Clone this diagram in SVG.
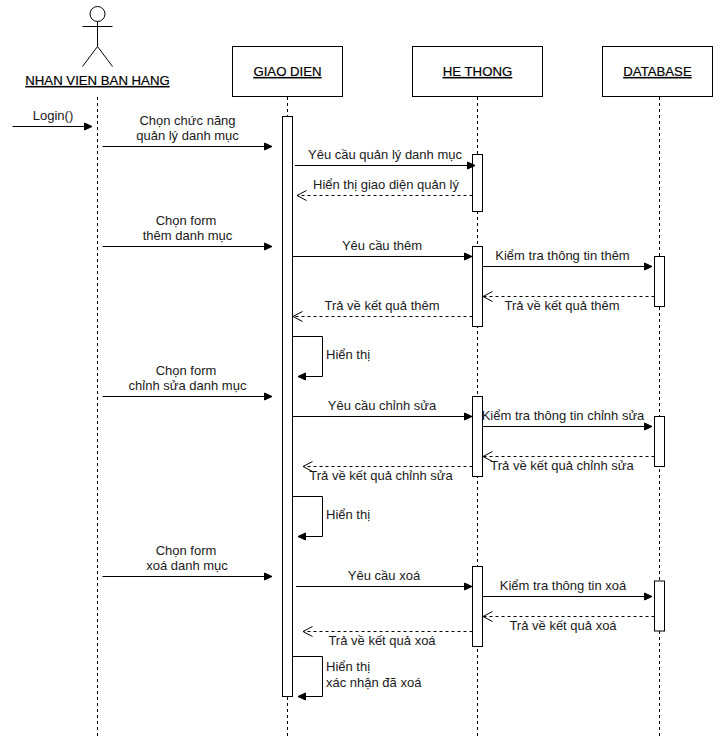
<svg xmlns="http://www.w3.org/2000/svg" width="722" height="746" viewBox="0 0 722 746">
<style>
text{font-family:"Liberation Sans",Arial,sans-serif;font-size:13px;fill:#1a1a1a}
.m{text-anchor:middle}
.b{text-decoration:underline;text-anchor:middle;fill:#000;font-size:13.2px;stroke:#000;stroke-width:0.2}
.box{fill:#fff;stroke:#000;stroke-width:1}
.ll{fill:none;stroke:#000;stroke-width:1;stroke-dasharray:3 3}
.a{fill:none;stroke:#000;stroke-width:1;marker-end:url(#block)}
.r{fill:none;stroke:#000;stroke-width:1;stroke-dasharray:3 3;marker-end:url(#open)}
</style>
<defs>
<marker id="block" markerUnits="userSpaceOnUse" markerWidth="10" markerHeight="10" refX="8" refY="4.5" orient="auto"><path d="M0.5 1L8 4.5L0.5 8Z" fill="#000" stroke="#000"/></marker>
<marker id="open" markerUnits="userSpaceOnUse" markerWidth="12" markerHeight="12" refX="10" refY="5.500" orient="auto"><path d="M0.500 0.500L10 5.500L0.500 10.500" fill="none" stroke="#000"/></marker>
</defs>
<rect width="722" height="746" fill="#fff"/>
<g id="lifelines">
<path class="ll" d="M97.500 97V737"/><path class="ll" d="M287.500 97V737"/><path class="ll" d="M477.500 97V737"/><path class="ll" d="M659.500 97V737"/>
</g>
<g id="actor">
<circle cx="97.500" cy="14" r="7.500" fill="#fff" stroke="#000"/>
<path d="M97.500 21.500V46.500M82.500 26.500H112.500M97.500 46.500L82.500 66.500M97.500 46.500L112.500 66.500" fill="none" stroke="#000"/>
<text class="b" x="97.500" y="85">NHAN VIEN BAN HANG</text>
</g>
<g id="giaodien"><rect class="box" x="232.500" y="46.500" width="110" height="50"/><text class="b" x="287.500" y="76">GIAO DIEN</text></g>
<g id="hethong"><rect class="box" x="412.500" y="46.500" width="130" height="50"/><text class="b" x="477.500" y="76">HE THONG</text></g>
<g id="database"><rect class="box" x="602.500" y="46.500" width="110" height="50"/><text class="b" x="657.500" y="76">DATABASE</text></g>
<g id="activations">
<rect class="box" x="282.500" y="116.500" width="10" height="580"/>
<rect class="box" x="472.500" y="154.500" width="10" height="57"/>
<rect class="box" x="472.500" y="246.500" width="10" height="80"/>
<rect class="box" x="472.500" y="396.500" width="10" height="80"/>
<rect class="box" x="472.500" y="566.500" width="10" height="80"/>
<rect class="box" x="654.500" y="256.500" width="10" height="50"/>
<rect class="box" x="654.500" y="416.500" width="10" height="50"/>
<rect class="box" x="654.500" y="581" width="10" height="50"/>
</g>
<g id="connectors">
<path class="a" d="M12.500 126.500H92"/>
<path class="a" d="M102.500 146.500H272"/>
<path class="a" d="M295 165.500H475"/>
<path class="r" d="M472.500 195.500H297"/>
<path class="a" d="M102.500 246.500H272"/>
<path class="a" d="M292.500 256.500H472"/>
<path class="a" d="M482.500 266.500H652"/>
<path class="r" d="M654.500 296.500H483"/>
<path class="r" d="M472.500 316.500H293"/>
<path class="a" d="M292.500 336.500H322.500V376.500H298"/>
<path class="a" d="M102.500 396.500H272"/>
<path class="a" d="M292.500 416.500H472"/>
<path class="a" d="M482.500 426.500H652"/>
<path class="r" d="M654.500 456.500H483"/>
<path class="r" d="M472.500 466.500H303"/>
<path class="a" d="M292.500 496.500H322.500V536.500H298"/>
<path class="a" d="M102.500 576.500H272"/>
<path class="a" d="M296 586.500H472"/>
<path class="a" d="M482.500 596.500H652"/>
<path class="r" d="M654.500 616.500H483"/>
<path class="r" d="M472.500 631.500H303"/>
<path class="a" d="M292.500 656.500H322.500V696.500H298"/>
</g>
<g id="labels">
<text class="m" x="53" y="120">Login()</text>
<text class="m" x="187.500" y="125">Chọn chức năng</text>
<text class="m" x="187.500" y="140">quản lý danh mục</text>
<text class="m" x="385" y="159">Yêu cầu quản lý danh mục</text>
<text class="m" x="386" y="189">Hiển thị giao diện quản lý</text>
<text class="m" x="186" y="225">Chọn form</text>
<text class="m" x="187.500" y="240">thêm danh mục</text>
<text class="m" x="382" y="250">Yêu cầu thêm</text>
<text class="m" x="562.500" y="260">Kiểm tra thông tin thêm</text>
<text class="m" x="562" y="310">Trả về kết quả thêm</text>
<text class="m" x="382" y="310">Trả về kết quả thêm</text>
<text x="326" y="359">Hiển thị</text>
<text class="m" x="186" y="375">Chọn form</text>
<text class="m" x="187.500" y="390">chỉnh sửa danh mục</text>
<text class="m" x="382" y="410">Yêu cầu chỉnh sửa</text>
<text class="m" x="563" y="420">Kiểm tra thông tin chỉnh sửa</text>
<text class="m" x="562" y="470">Trả về kết quả chỉnh sửa</text>
<text class="m" x="381" y="480">Trả về kết quả chỉnh sửa</text>
<text x="326" y="519">Hiển thị</text>
<text class="m" x="186" y="555">Chọn form</text>
<text class="m" x="187" y="570">xoá danh mục</text>
<text class="m" x="384" y="580">Yêu cầu xoá</text>
<text class="m" x="563" y="590">Kiểm tra thông tin xoá</text>
<text class="m" x="563" y="630">Trả về kết quả xoá</text>
<text class="m" x="382" y="645">Trả về kết quả xoá</text>
<text x="326" y="671">Hiển thị</text>
<text x="326" y="687">xác nhận đã xoá</text>
</g>
</svg>
